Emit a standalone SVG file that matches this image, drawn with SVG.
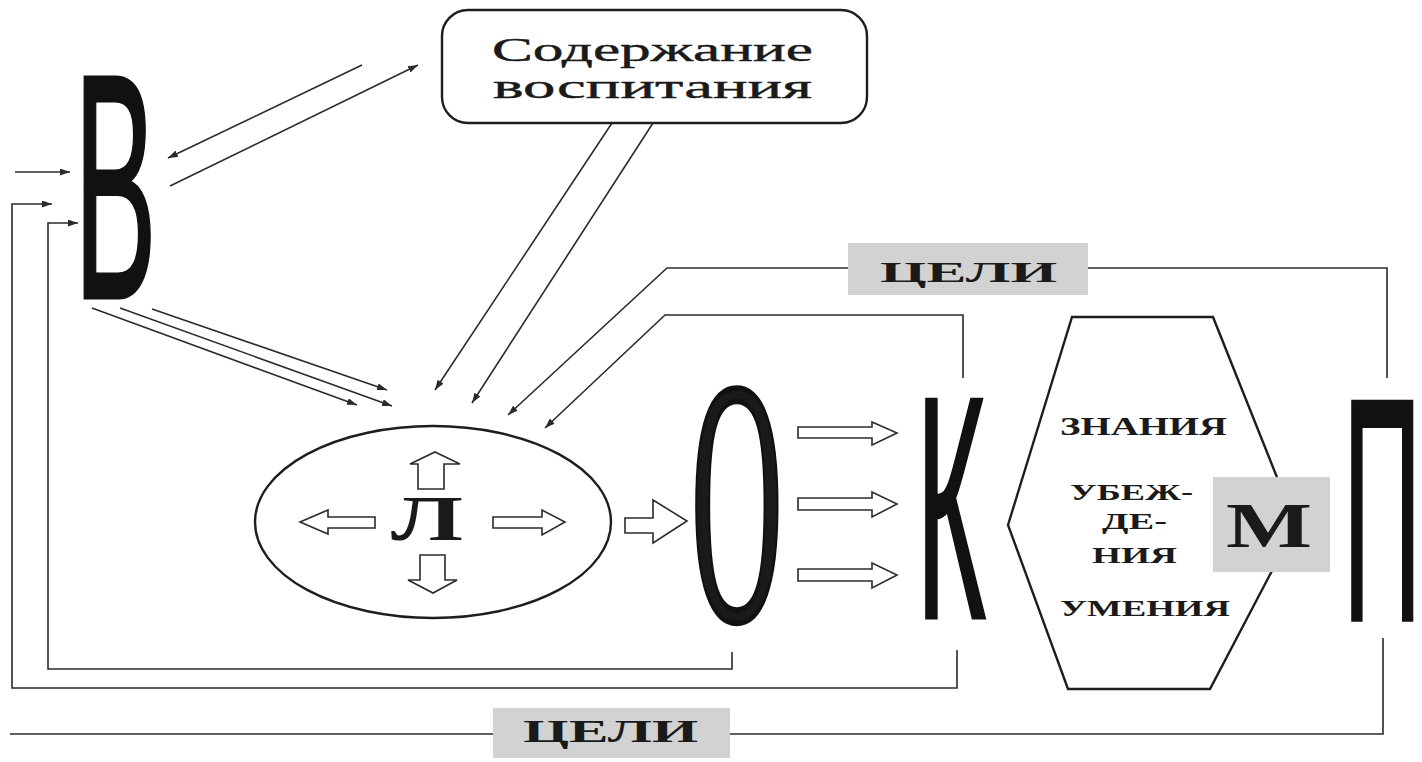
<svg xmlns="http://www.w3.org/2000/svg" width="1422" height="762" viewBox="0 0 1422 762">
<style>
.bg{fill:#ffffff}
.ln{fill:none;stroke:#2b2b2b;stroke-width:1.6}
.arr{marker-end:url(#ah)}
.blk{fill:#ffffff;stroke:#2b2b2b;stroke-width:1.6;stroke-linejoin:miter}
.shape{fill:#ffffff;stroke:#1e1e1e;stroke-width:2.4}
.tag{fill:#d2d2d2}
.ser{font-family:"Liberation Serif","Times New Roman",serif;fill:#1a1a1a}
.serb{font-family:"Liberation Serif","Times New Roman",serif;font-weight:bold;fill:#1a1a1a}
.big{font-family:"Liberation Sans",Arial,sans-serif;fill:#111111;stroke:#111111}
</style>
<defs>
<marker id="ah" markerUnits="userSpaceOnUse" markerWidth="11" markerHeight="8" refX="10" refY="3.5" orient="auto">
<path d="M0,0 L10,3.5 L0,7 z" fill="#2b2b2b"/>
</marker>
</defs>
<rect class="bg" x="0" y="0" width="1422" height="762"/>

<g id="connectors">
<path class="ln arr" d="M15,172 L70,172"/>
<path class="ln arr" d="M957,650 L957,688 L12,688 L12,204 L52,204"/>
<path class="ln arr" d="M732,652 L732,669 L48,669 L48,223 L78,223"/>
<path class="ln" d="M1383,638 L1383,734 L10,734"/>
<path class="ln arr" d="M1387,378 L1387,268 L667,268 L508,415"/>
<path class="ln arr" d="M963,378 L963,315 L665,315 L545,428"/>
<path class="ln arr" d="M612,123 L435,390"/>
<path class="ln arr" d="M653,123 L472,403"/>
<path class="ln arr" d="M92,308 L357,405"/>
<path class="ln arr" d="M120,308 L392,406"/>
<path class="ln arr" d="M152,309 L387,390"/>
<path class="ln arr" d="M362,65 L168,158"/>
<path class="ln arr" d="M170,186 L418,65"/>
</g>

<g id="node-content">
<rect class="shape" x="442" y="10" width="425" height="113" rx="26" ry="26"/>
<text class="ser" x="492" y="61" font-size="33" textLength="321" lengthAdjust="spacingAndGlyphs" stroke="#1a1a1a" stroke-width="0.4">Содержание</text>
<text class="ser" x="493" y="98" font-size="33" textLength="319" lengthAdjust="spacingAndGlyphs" stroke="#1a1a1a" stroke-width="0.4">воспитания</text>
</g>

<g id="node-V">
<text class="big" transform="translate(74,298) scale(1,2.59)" font-size="124" stroke-width="1.2">В</text>
</g>

<g id="node-L">
<ellipse class="shape" cx="433" cy="522" rx="178" ry="96" stroke-width="2"/>
<polygon class="blk" points="435,452 460,464 444,464 444,489 418,489 418,464 410,464"/>
<polygon class="blk" points="420,555 445,555 445,580 457,580 433,593 408,580 420,580"/>
<polygon class="blk" points="300,522 328,510 328,517 375,517 375,528 328,528 328,534"/>
<polygon class="blk" points="493,517 542,517 542,510 565,522 542,535 542,528 493,528"/>
<text class="serb" x="391" y="540" font-size="63" textLength="72" lengthAdjust="spacingAndGlyphs">Л</text>
</g>

<g id="arrow-L-O">
<polygon class="blk" points="625,518 653,518 653,500 687,521 653,543 653,533 625,533"/>
</g>

<g id="node-O">
<text class="ser" transform="translate(691,620) scale(1,2.76)" font-size="127" fill="#111111" stroke="#111111" stroke-width="2">О</text>
</g>

<g id="arrows-O-K">
<polygon class="blk" points="798,427 872,427 872,422 897,433 872,445 872,438 798,438"/>
<polygon class="blk" points="798,498 872,498 872,492 897,504 872,517 872,510 798,510"/>
<polygon class="blk" points="798,569 872,569 872,563 897,575 872,588 872,581 798,581"/>
</g>

<g id="node-K">
<text class="big" transform="translate(916,618) scale(1,2.65)" font-size="120" stroke-width="1.2">К</text>
</g>

<g id="node-hex">
<polygon class="shape" points="1008,525 1072,317 1213,317 1296,525 1210,689 1068,689"/>
<text class="serb" x="1060" y="435" font-size="25" textLength="167" lengthAdjust="spacingAndGlyphs">ЗНАНИЯ</text>
<text class="serb" x="1070" y="500" font-size="23" textLength="123" lengthAdjust="spacingAndGlyphs">УБЕЖ-</text>
<text class="serb" x="1102" y="529" font-size="23" textLength="65" lengthAdjust="spacingAndGlyphs">ДЕ-</text>
<text class="serb" x="1092" y="563" font-size="23" textLength="85" lengthAdjust="spacingAndGlyphs">НИЯ</text>
<text class="serb" x="1060" y="616" font-size="24" textLength="170" lengthAdjust="spacingAndGlyphs">УМЕНИЯ</text>
</g>

<g id="node-M">
<rect class="tag" x="1213" y="477" width="117" height="95"/>
<text class="serb" x="1226" y="547" font-size="63" textLength="86" lengthAdjust="spacingAndGlyphs">М</text>
</g>

<g id="node-P">
<text class="big" transform="translate(1343,620) scale(0.94,2.74)" font-size="116" stroke-width="1.2">П</text>
</g>

<g id="label-goals-top">
<rect class="tag" x="848" y="243" width="240" height="52"/>
<text class="serb" x="880" y="282" font-size="30" textLength="177" lengthAdjust="spacingAndGlyphs">ЦЕЛИ</text>
</g>

<g id="label-goals-bottom">
<rect class="tag" x="493" y="708" width="237" height="50"/>
<text class="serb" x="523" y="742" font-size="32" textLength="175" lengthAdjust="spacingAndGlyphs">ЦЕЛИ</text>
</g>
</svg>
